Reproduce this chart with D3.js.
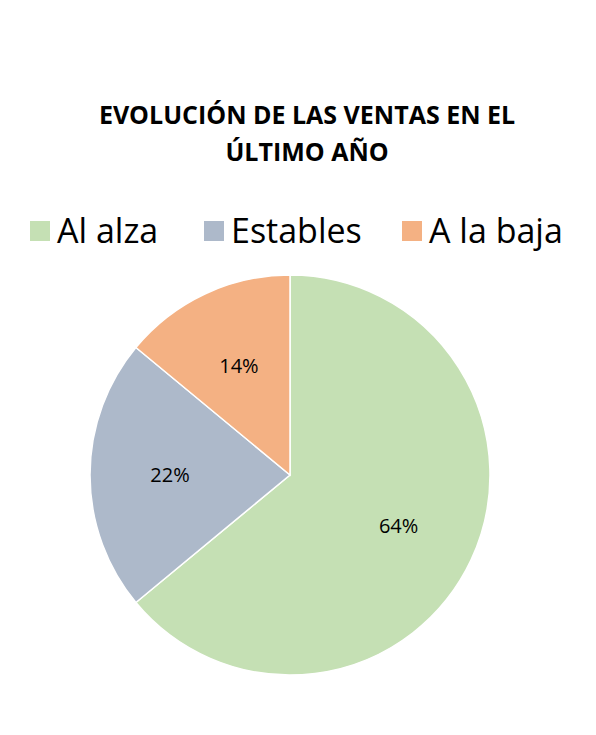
<!DOCTYPE html>
<html><head><meta charset="utf-8">
<script src="https://cdn.jsdelivr.net/npm/d3@7"></script>
<style>body{margin:0;background:#fff}</style></head>
<body><svg id="c" width="596" height="735"></svg>
<script>
const categories = ["Al alza", "Estables", "A la baja"];
const values = [64, 22, 14];
const labels = ["64%", "22%", "14%"];
const colors = ["#c5e0b4", "#adb9ca", "#f4b183"];
const svg = d3.select("#c");
const font = "'Open Sans', 'Noto Sans', sans-serif";
svg.selectAll("text.t").data(["EVOLUCIÓN DE LAS VENTAS EN EL", "ÚLTIMO AÑO"]).enter().append("text")
  .attr("x", 307).attr("y", (d,i)=>124+i*37).attr("text-anchor","middle")
  .style("font-family", font).style("font-weight","bold").style("font-size","25px").attr("fill","#000").text(d=>d);
// legend
const lx = [30, 204, 402];
const lg = svg.selectAll("g.l").data(categories).enter().append("g").attr("transform",(d,i)=>`translate(${lx[i]},0)`);
lg.append("rect").attr("x",0).attr("y",221).attr("width",20).attr("height",20).attr("fill",(d,i)=>colors[i]);
lg.append("text").attr("x",27).attr("y",243).style("font-family",font).style("font-size","34px").attr("fill","#000").text(d=>d);
const cx=290, cy=475, r=200;
const pie = d3.pie().sort(null)(values);
const arc = d3.arc().innerRadius(0).outerRadius(r);
const g = svg.append("g").attr("transform",`translate(${cx},${cy})`);
g.selectAll("path").data(pie).enter().append("path").attr("d",arc).attr("fill",(d,i)=>colors[i]).attr("stroke","#fff").attr("stroke-width",1.5);
const la = d3.arc().innerRadius(r*0.6).outerRadius(r*0.6);
g.selectAll("text").data(pie).enter().append("text").attr("transform",d=>`translate(${la.centroid(d)})`)
  .attr("text-anchor","middle").attr("dy","0.35em").style("font-family",font).style("font-size","20px").attr("fill","#000")
  .text((d,i)=>labels[i]);
</script></body></html>
